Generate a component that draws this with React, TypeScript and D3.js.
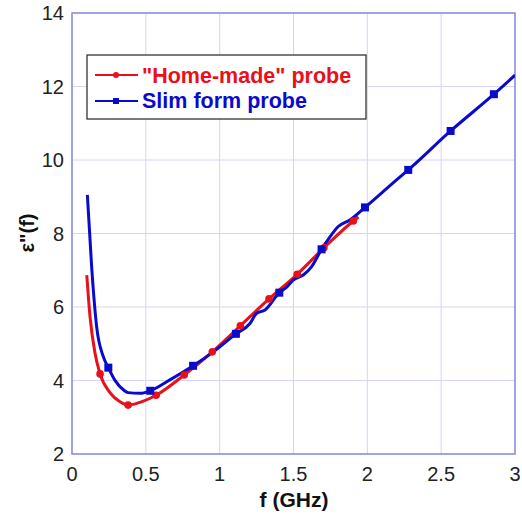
import React from "react";
import * as d3 from "d3";

const xTicks = [0, 0.5, 1, 1.5, 2, 2.5, 3];
const xTickLabels = ["0", "0.5", "1", "1.5", "2", "2.5", "3"];
const yTicks = [2, 4, 6, 8, 10, 12, 14];
const yTickLabels = ["2", "4", "6", "8", "10", "12", "14"];

const seriesNames = ['"Home-made" probe', "Slim form probe"];

const homeX = [0.1, 0.122, 0.156, 0.19, 0.257, 0.325, 0.38, 0.47, 0.57, 0.76, 0.95, 1.14, 1.334, 1.525, 1.706, 1.905, 1.94];
const homeY = [6.87, 5.74, 4.74, 4.18, 3.67, 3.42, 3.33, 3.42, 3.6, 4.15, 4.78, 5.49, 6.22, 6.89, 7.61, 8.34, 8.45];
const homeMarkX = [0.19, 0.38, 0.57, 0.76, 0.95, 1.14, 1.334, 1.525, 1.706, 1.905];
const homeMarkY = [4.18, 3.33, 3.6, 4.15, 4.78, 5.49, 6.22, 6.89, 7.61, 8.34];

const slimX = [0.104, 0.133, 0.167, 0.212, 0.246, 0.29, 0.35, 0.38, 0.46, 0.53, 0.66, 0.82, 0.957, 1.11, 1.205, 1.25, 1.307, 1.404, 1.454, 1.498, 1.566, 1.623, 1.69, 1.747, 1.803, 1.882, 1.984, 2.198, 2.277, 2.564, 2.857, 3.0];
const slimY = [9.05, 7.1, 5.46, 4.65, 4.35, 4.01, 3.74, 3.67, 3.65, 3.72, 4.01, 4.4, 4.78, 5.27, 5.55, 5.83, 5.92, 6.39, 6.54, 6.73, 6.87, 7.1, 7.57, 7.91, 8.19, 8.37, 8.71, 9.46, 9.73, 10.79, 11.79, 12.31];
const slimMarkX = [0.246, 0.53, 0.82, 1.11, 1.404, 1.69, 1.984, 2.277, 2.564, 2.857];
const slimMarkY = [4.35, 3.72, 4.4, 5.27, 6.39, 7.57, 8.71, 9.73, 10.79, 11.79];

const RED = "#e8101a";
const BLUE = "#0a0acc";

export default function App() {
  const W = 522, H = 516;
  const L = 72, R = 515, T = 13, B = 454;
  const x = d3.scaleLinear().domain([0, 3]).range([L, R]);
  const y = d3.scaleLinear().domain([2, 14]).range([B, T]);
  const line = d3.line<[number, number]>().x(d => x(d[0])).y(d => y(d[1])).curve(d3.curveMonotoneX);
  const homePts = homeX.map((v, i) => [v, homeY[i]] as [number, number]);
  const slimPts = slimX.map((v, i) => [v, slimY[i]] as [number, number]);
  const font = "Arial, 'Liberation Sans', sans-serif";
  return (
    <svg width={W} height={H} style={{ position: "absolute", left: 0, top: 0, background: "#fff" }} fontFamily={font}>
      <defs>
        <clipPath id="clip"><rect x={L} y={T} width={R - L} height={B - T} /></clipPath>
      </defs>
      {xTicks.map((t, i) => (
        <line key={"gx" + i} x1={x(t)} x2={x(t)} y1={T} y2={B} stroke="#d4d4f6" strokeWidth={1} />
      ))}
      {yTicks.map((t, i) => (
        <line key={"gy" + i} x1={L} x2={R} y1={y(t)} y2={y(t)} stroke="#d4d4f6" strokeWidth={1} />
      ))}
      <rect x={L} y={T} width={R - L} height={B - T} fill="none" stroke="#8a8ae8" strokeWidth={1.5} />
      {xTicks.map((t, i) => (
        <text key={"xt" + i} x={x(t)} y={481} textAnchor="middle" fontSize={20} fill="#222">{xTickLabels[i]}</text>
      ))}
      {yTicks.map((t, i) => (
        <text key={"yt" + i} x={64} y={y(t) + 7} textAnchor="end" fontSize={20} fill="#222">{yTickLabels[i]}</text>
      ))}
      <text x={294} y={507} textAnchor="middle" fontSize={21} fontWeight="bold" fill="#111">f (GHz)</text>
      <text transform={`translate(34,233) rotate(-90)`} textAnchor="middle" fontSize={20} fontWeight="bold" fill="#111">ε"(f)</text>
      <g clipPath="url(#clip)">
        <path d={line(homePts) || ""} fill="none" stroke={RED} strokeWidth={3} strokeLinejoin="round" />
        <path d={line(slimPts) || ""} fill="none" stroke={BLUE} strokeWidth={3} strokeLinejoin="round" />
        {homeMarkX.map((v, i) => (
          <circle key={"hm" + i} cx={x(v)} cy={y(homeMarkY[i])} r={3.8} fill={RED} />
        ))}
        {slimMarkX.map((v, i) => (
          <rect key={"sm" + i} x={x(v) - 4} y={y(slimMarkY[i]) - 4} width={8} height={8} fill={BLUE} />
        ))}
      </g>
      <rect x={87} y={55} width={279} height={64} fill="#fff" stroke="#222" strokeWidth={1.2} />
      <line x1={95} x2={138} y1={75} y2={75} stroke={RED} strokeWidth={2} />
      <circle cx={116} cy={75} r={3} fill={RED} />
      <text x={142} y={83} fontSize={21.5} fontWeight="bold" fill={RED}>{seriesNames[0]}</text>
      <line x1={95} x2={138} y1={101} y2={101} stroke={BLUE} strokeWidth={2} />
      <rect x={113} y={98} width={6} height={6} fill={BLUE} />
      <text x={142} y={108} fontSize={21.5} fontWeight="bold" fill={BLUE}>{seriesNames[1]}</text>
    </svg>
  );
}
